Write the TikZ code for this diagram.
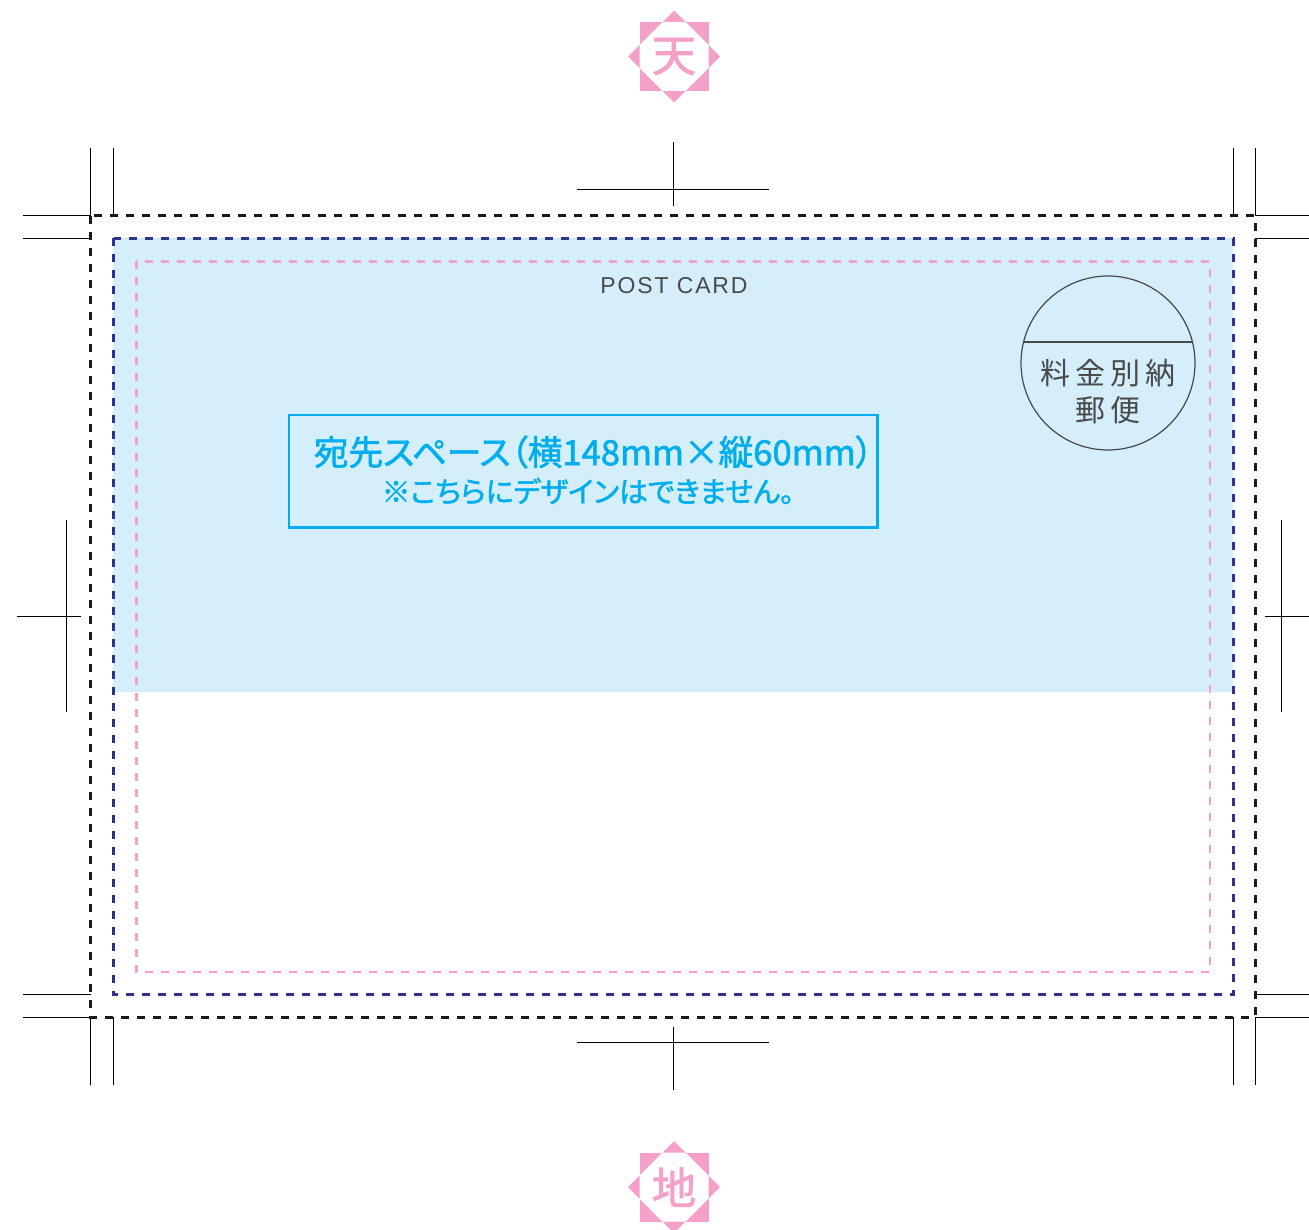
\documentclass[tikz,border=0pt]{standalone}
\usepackage{fontspec}
\newfontfamily\jpbold[FakeBold=1.6,RawFeature={+palt}]{Noto Sans CJK JP}
\newfontfamily\jpmark[FakeBold=1.8]{Noto Sans CJK JP}
\newfontfamily\jpthin{Noto Sans CJK JP}
\newfontfamily\cardfont[LetterSpace=8]{Liberation Sans}
\definecolor{cardsky}{HTML}{D4EEFB}
\definecolor{cyantext}{HTML}{00AEEF}
\definecolor{markpink}{HTML}{F5A0C8}
\definecolor{navydash}{HTML}{2E3192}
\definecolor{inkgrey}{HTML}{4A4A4A}
\tikzset{
  cropline/.style={draw=black,line width=1pt},
  frameblack/.style={draw=black!90,line width=2.8pt,dash pattern=on 8pt off 8pt},
  framenavy/.style={draw=navydash,line width=3pt,dash pattern=on 8pt off 8pt},
  framepink/.style={draw=markpink,line width=2.8pt,dash pattern=on 8pt off 8pt},
}
\newcommand{\emblemat}[3]{%
  \begin{scope}[shift={(#1,#2)}]
    \fill[markpink] (-34.5,-34.5) rectangle (34.5,34.5);
    \fill[markpink] (0,-46) -- (46,0) -- (0,46) -- (-46,0) -- cycle;
    \fill[white] (-11.5,-34.5) -- (11.5,-34.5) -- (34.5,-11.5) -- (34.5,11.5)
      -- (11.5,34.5) -- (-11.5,34.5) -- (-34.5,11.5) -- (-34.5,-11.5) -- cycle;
    \node[text=markpink,inner sep=0pt,font=\jpmark\fontsize{44}{44}\selectfont] at (0,0) {#3};
  \end{scope}}
\begin{document}
\begin{tikzpicture}[x=1pt,y=-1pt]
\useasboundingbox (0,0) rectangle (1309,1230);
\fill[cardsky] (113,238) rectangle (1233,692);
% emblems
\emblemat{674}{56.5}{天}
\emblemat{674}{1187}{地}
% crop marks, corners
\draw[cropline] (90.5,148) -- (90.5,216) (113.5,148) -- (113.5,216);
\draw[cropline] (1233,148) -- (1233,216) (1255.5,148) -- (1255.5,216);
\draw[cropline] (23,216) -- (91,216) (23,238.5) -- (91,238.5);
\draw[cropline] (1255,216) -- (1309,216) (1255,238.5) -- (1309,238.5);
\draw[cropline] (23,994.5) -- (91,994.5) (23,1017) -- (91,1017);
\draw[cropline] (1255,994.5) -- (1309,994.5) (1255,1017) -- (1309,1017);
\draw[cropline] (90.5,1017) -- (90.5,1085) (113.5,1017) -- (113.5,1085);
\draw[cropline] (1233,1017) -- (1233,1085) (1255.5,1017) -- (1255.5,1085);
% centre marks
\draw[cropline] (673,142) -- (673,206) (577,190) -- (769,190);
\draw[cropline] (673,1027) -- (673,1090) (577,1042.5) -- (769,1042.5);
\draw[cropline] (66,520) -- (66,712) (17,616.5) -- (81,616.5);
\draw[cropline] (1281,520) -- (1281,712) (1265,616.5) -- (1309,616.5);
% frames
\draw[frameblack] (90.8,215.8) rectangle (1255.2,1017.2);
\draw[framenavy] (113.5,238.5) rectangle (1233,994.5);
\draw[framepink] (136.2,261.2) rectangle (1210,972);
% post card
\node[text=inkgrey,inner sep=0pt,font=\cardfont\fontsize{23}{23}\selectfont] (postcard) at (674,286) {POST CARD};
% stamp
\draw[inkgrey,line width=1.2pt] (1108,363) circle (87);
\draw[inkgrey,line width=1.2pt] (1023.5,342) -- (1192.5,342);
\node[text=inkgrey,inner sep=0pt,font=\jpthin\fontsize{30}{30}\selectfont] (stampa) at (1108,373) {料\hspace{5pt}金\hspace{5pt}別\hspace{5pt}納};
\node[text=inkgrey,inner sep=0pt,font=\jpthin\fontsize{30}{30}\selectfont] (stampb) at (1108,410) {郵\hspace{5pt}便};
% box
\draw[cyantext,line width=2.8pt] (289,415) rectangle (877.5,527.5);
\node[text=cyantext,inner sep=0pt,font=\jpbold\fontsize{34.6}{35}\selectfont] (boxa) at (593.5,452) {宛先スペース（横148mm×縦60mm）};
\node[text=cyantext,inner sep=0pt,font=\jpbold\fontsize{28.8}{29}\selectfont] (boxb) at (588,491) {※こちらにデザインはできません。};
\end{tikzpicture}
\end{document}
